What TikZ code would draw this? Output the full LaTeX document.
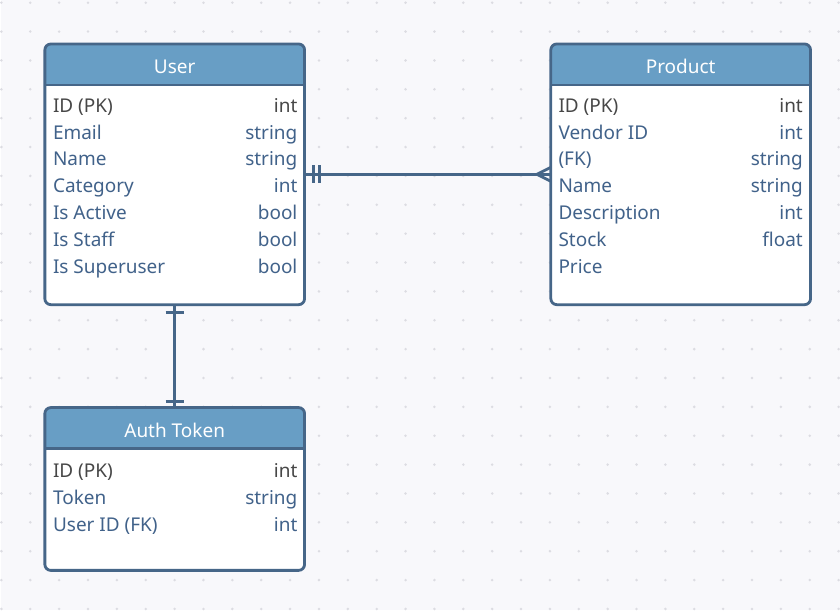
\documentclass[tikz,border=0pt]{standalone}
\usepackage{fontspec}
\setmainfont{Noto Sans}
\usetikzlibrary{positioning}
\definecolor{hdrblue}{HTML}{689EC5}
\definecolor{edgeblue}{HTML}{466688}
\definecolor{fieldblue}{HTML}{41628A}
\definecolor{pkgrey}{HTML}{474747}
\definecolor{canvas}{HTML}{F8F8FB}
\definecolor{dotgrey}{HTML}{DCDCE2}

\begin{document}
\begin{tikzpicture}[x=1pt, y=-1pt,
  tbl/.style={draw=edgeblue, line width=2.8pt, fill=white, rounded corners=6pt,
    minimum width=260pt, inner sep=0pt, outer sep=0pt,
    path picture={
      \fill[hdrblue, sharp corners] (path picture bounding box.north west)
        rectangle ([yshift=-41pt]path picture bounding box.north east);
      \draw[edgeblue, line width=2.8pt] ([yshift=-41pt]path picture bounding box.north west)
        -- ([yshift=-41pt]path picture bounding box.north east);}},
  title/.style={text=white, inner sep=0pt, font=\fontsize{19}{23}\selectfont},
  fld/.style={text=fieldblue, inner sep=0pt, anchor=base west, font=\fontsize{19}{23}\selectfont},
  typ/.style={fld, anchor=base east},
  rel/.style={draw=edgeblue, line width=2.8pt, line join=round}]

	% canvas with dot grid
	\fill[canvas] (0,0) rectangle (840,611);
	\foreach \i in {0,...,29}
		\foreach \j in {0,...,21}
			\fill[dotgrey] (0.5+28.9*\i, 2.7+28.9*\j) circle (1.4);
	\useasboundingbox (0,0) rectangle (840,611);

	% tables
	\node[tbl, minimum height=261pt] (user) at (174,174.5) {};
	\node[tbl, minimum height=261pt] (product) at (680.5,174.5) {};
	\node[tbl, minimum height=163pt] (auth) at (174,489.5) {};

	\node[title] (user-title) at ([yshift=-22.5pt]user.north) {User};
	\node[title] (product-title) at ([yshift=-22.5pt]product.north) {Product};
	\node[title] (auth-title) at ([yshift=-22.5pt]auth.north) {Auth Token};

	% fields
	\node[fld, text=pkgrey] (user-f1) at (52,112.5) {ID (PK)};
	\node[typ, text=pkgrey] (user-t1) at (297,112.5) {int};
	\foreach \f/\t [count=\i from 2] in {Email/string, Name/string, Category/int,
			Is Active/bool, Is Staff/bool, Is Superuser/bool} {
		\node[fld] (user-f\i) at (52,112.5+26.8*\i-26.8) {\f};
		\node[typ] (user-t\i) at (297,112.5+26.8*\i-26.8) {\t};
	}

	\node[fld, text=pkgrey] (product-f1) at (558,112.5) {ID (PK)};
	\node[typ, text=pkgrey] (product-t1) at (803,112.5) {int};
	\foreach \f/\t [count=\i from 2] in {Vendor ID/int, (FK)/string, Name/string,
			Description/int, Stock/float, Price/{}} {
		\node[fld] (product-f\i) at (558,112.5+26.8*\i-26.8) {\f};
		\node[typ] (product-t\i) at (803,112.5+26.8*\i-26.8) {\t};
	}

	\node[fld, text=pkgrey] (auth-f1) at (52,478.5) {ID (PK)};
	\node[typ, text=pkgrey] (auth-t1) at (297,478.5) {int};
	\foreach \f/\t [count=\i from 2] in {Token/string, User ID (FK)/int} {
		\node[fld] (auth-f\i) at (52,478.5+26.8*\i-26.8) {\f};
		\node[typ] (auth-t\i) at (297,478.5+26.8*\i-26.8) {\t};
	}

	% one to many: user -> product
	\draw[rel] (user.east) -- (product.west);
	\draw[rel] ([xshift=9pt, yshift=9pt]user.east) -- ([xshift=9pt, yshift=-9pt]user.east);
	\draw[rel] ([xshift=15pt, yshift=9pt]user.east) -- ([xshift=15pt, yshift=-9pt]user.east);
	\draw[rel] ([yshift=7pt]product.west) -- ([xshift=-14pt]product.west) -- ([yshift=-7pt]product.west);

	% one to one: user -> auth token
	\draw[rel] (user.south) -- (auth.north);
	\draw[rel] ([xshift=-9pt, yshift=-8pt]user.south) -- ([xshift=9pt, yshift=-8pt]user.south);
	\draw[rel] ([xshift=-9pt, yshift=6pt]auth.north) -- ([xshift=9pt, yshift=6pt]auth.north);
\end{tikzpicture}
\end{document}
